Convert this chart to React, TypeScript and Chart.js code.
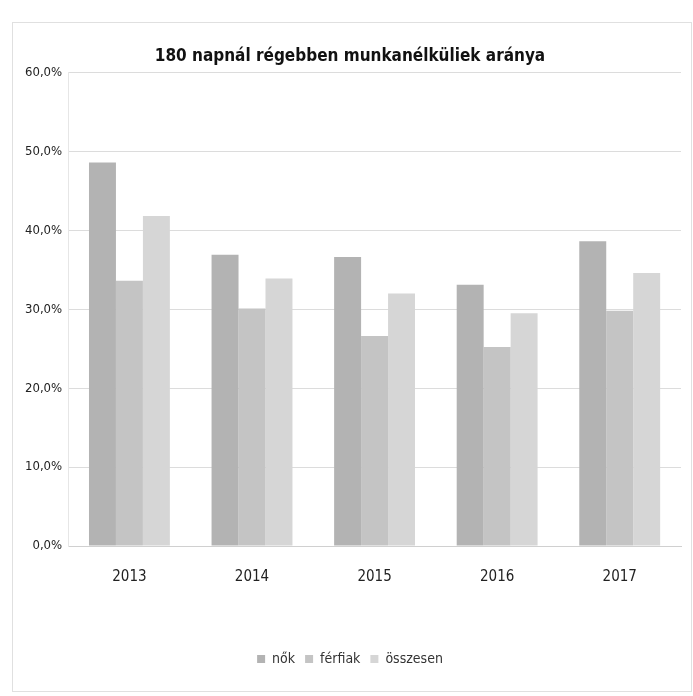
import React, { useEffect, useRef } from "react";
import { Chart, registerables } from "chart.js";

Chart.register(...registerables);

const categories = ["2013", "2014", "2015", "2016", "2017"];
const nok = [48.6, 36.9, 36.6, 33.1, 38.6];
const ferfiak = [33.6, 30.1, 26.6, 25.2, 29.8];
const osszesen = [41.8, 33.9, 32.0, 29.5, 34.6];
const seriesLabels = ["nők", "férfiak", "összesen"];
const titleText = "180 napnál régebben munkanélküliek aránya";

const FONT = "'Liberation Sans Narrow', 'DejaVu Sans Condensed', 'Open Sans', sans-serif";

export default function App() {
  const ref = useRef<HTMLCanvasElement | null>(null);
  useEffect(() => {
    if (!ref.current) return;
    const chart = new Chart(ref.current, {
      type: "bar",
      data: {
        labels: categories,
        datasets: [
          { label: seriesLabels[0], data: nok, backgroundColor: "#b3b3b3" },
          { label: seriesLabels[1], data: ferfiak, backgroundColor: "#c4c4c4" },
          { label: seriesLabels[2], data: osszesen, backgroundColor: "#d6d6d6" },
        ],
      },
      options: {
        responsive: false,
        animation: false,
        layout: { padding: { left: 6, right: 10, top: 17, bottom: 15 } },
        datasets: { bar: { categoryPercentage: 0.66, barPercentage: 1.0 } },
        plugins: {
          title: {
            display: true,
            text: titleText,
            color: "#111",
            font: { family: FONT, size: 17, weight: "bold" },
            padding: { top: 6, bottom: 6 },
          },
          legend: {
            position: "bottom",
            labels: {
              boxWidth: 8,
              boxHeight: 8,
              color: "#333",
              font: { family: FONT, size: 14 },
              padding: 10,
            },
          },
          tooltip: { enabled: false },
        },
        scales: {
          x: {
            grid: { display: false },
            border: { color: "#d0d0d0" },
            ticks: { color: "#222", font: { family: FONT, size: 15 }, padding: 14 },
            afterFit: (axis: any) => {
              axis.height += 42;
            },
          },
          y: {
            min: 0,
            max: 60,
            ticks: {
              stepSize: 10,
              color: "#222",
              padding: 6,
              font: { family: FONT, size: 13 },
              callback: (v: any) => Number(v).toFixed(1).replace(".", ",") + "%",
            },
            grid: { color: "#dcdcdc", drawTicks: false },
            border: { display: true, color: "#e6e6e6" },
          },
        },
      },
    });
    return () => chart.destroy();
  }, []);
  return (
    <div
      style={{
        position: "absolute",
        left: 12,
        top: 22,
        width: 678,
        height: 668,
        border: "1px solid #e0e0e0",
        background: "#fff",
      }}
    >
      <canvas ref={ref} width={678} height={668} />
    </div>
  );
}
